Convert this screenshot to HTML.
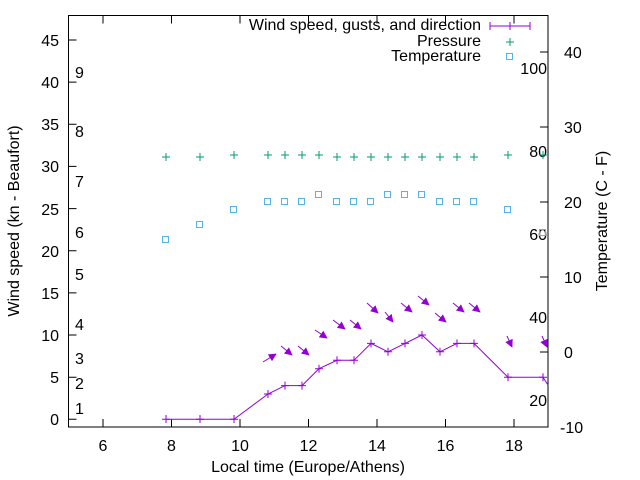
<!DOCTYPE html>
<html><head><meta charset="utf-8"><style>
body{margin:0;background:#fff}
svg{display:block}
text{font-family:"Liberation Sans",sans-serif;font-size:16px;fill:#000}
</style></head><body>
<svg width="640" height="480" viewBox="0 0 640 480" xmlns="http://www.w3.org/2000/svg">
<defs>
<marker id="ah" viewBox="0 0 10 10" refX="9" refY="5" markerWidth="8" markerHeight="8" markerUnits="userSpaceOnUse" orient="auto">
<path d="M0,0 L10,5 L0,10 z" fill="#9400d3"/>
</marker>
</defs>
<g stroke="#000" stroke-width="1" fill="none">
<rect x="68.5" y="15.5" width="479.5" height="411.5"/>
<path d="M68.5 419.3h8M68.5 377.2h8M68.5 335h8M68.5 292.9h8M68.5 250.7h8M68.5 208.6h8M68.5 166.4h8M68.5 124.3h8M68.5 82.1h8M68.5 40h8"/>
<path d="M548 52h-8M548 127h-8M548 202h-8M548 277h-8M548 352h-8M548 427h-8"/>
<path d="M103 427v-8M171.5 427v-8M240 427v-8M308.5 427v-8M377 427v-8M445.5 427v-8M514 427v-8"/>
<path d="M103 15.5v8M171.5 15.5v8M240 15.5v8M308.5 15.5v8M377 15.5v8M445.5 15.5v8M514 15.5v8"/>
</g>
<g text-anchor="end">
<text x="59" y="425">0</text><text x="59" y="383">5</text><text x="59" y="341">10</text><text x="59" y="299">15</text><text x="59" y="257">20</text><text x="59" y="215">25</text><text x="59" y="172">30</text><text x="59" y="130">35</text><text x="59" y="88">40</text><text x="59" y="46">45</text>
<text x="547" y="74">100</text><text x="547" y="157">80</text><text x="547" y="240">60</text><text x="547" y="323">40</text><text x="547" y="406">20</text>
</g>
<g>
<text x="564" y="58">40</text><text x="564" y="133">30</text><text x="564" y="208">20</text><text x="564" y="283">10</text><text x="564" y="358">0</text><text x="560" y="433">-10</text>
<text x="75" y="414">1</text><text x="75" y="389">2</text><text x="75" y="364">3</text><text x="75" y="330">4</text><text x="75" y="280">5</text><text x="75" y="238">6</text><text x="75" y="187">7</text><text x="75" y="137">8</text><text x="75" y="78">9</text>
</g>
<g text-anchor="middle">
<text x="103" y="451">6</text><text x="171.5" y="451">8</text><text x="240" y="451">10</text><text x="308.5" y="451">12</text><text x="377" y="451">14</text><text x="445.5" y="451">16</text><text x="514" y="451">18</text>
<text x="308" y="472">Local time (Europe/Athens)</text>
<text transform="translate(19,221) rotate(-90)">Wind speed (kn - Beaufort)</text>
<text transform="translate(607,221) rotate(-90)">Temperature (C - F)</text>
</g>
<g text-anchor="end">
<text x="481" y="30">Wind speed, gusts, and direction</text>
<text x="481" y="46">Pressure</text>
<text x="481" y="61">Temperature</text>
</g>
<g stroke="#9400d3" stroke-width="1" fill="none">
<path d="M490 26h40M490 22v8M530 22v8M510 22v8"/>
<polyline points="166,419.3 200,419.3 234,419.3 268,394 285,385.6 302,385.6 319,368.7 337,360.3 354,360.3 371,343.4 388,351.8 405,343.4 422,335 440,351.8 457,343.4 474,343.4 508,377.2 543,377.2 548,385"/>
<path d="M166 415v8M200 415v8M234 415v8M268 390v8M285 381.6v8M302 381.6v8M319 364.7v8M337 356.3v8M354 356.3v8M371 339.4v8M388 347.8v8M405 339.4v8M422 331v8M440 347.8v8M457 339.4v8M474 339.4v8M508 373.2v8M543 373.2v8"/>
<path d="M162 419.3h8M196 419.3h8M230 419.3h8M264 394h8M281 385.6h8M298 385.6h8M315 368.7h8M333 360.3h8M350 360.3h8M367 343.4h8M384 351.8h8M401 343.4h8M418 335h8M436 351.8h8M453 343.4h8M470 343.4h8M504 377.2h8M539 377.2h8"/>
<g marker-end="url(#ah)">
<line x1="263" y1="362" x2="276" y2="354"/>
<line x1="281" y1="346" x2="292" y2="355"/>
<line x1="298" y1="346" x2="309" y2="355"/>
<line x1="315" y1="330" x2="327" y2="338"/>
<line x1="333" y1="320" x2="345" y2="329"/>
<line x1="350" y1="320" x2="361" y2="329"/>
<line x1="367" y1="303" x2="378" y2="313"/>
<line x1="385" y1="312" x2="393" y2="322"/>
<line x1="401" y1="303" x2="412" y2="312"/>
<line x1="418" y1="296" x2="429" y2="305"/>
<line x1="435" y1="313" x2="446" y2="322"/>
<line x1="453" y1="303" x2="464" y2="312"/>
<line x1="469" y1="303" x2="480" y2="312"/>
<line x1="507" y1="336" x2="512" y2="347"/>
<line x1="542" y1="336" x2="547" y2="347"/>
</g>
</g>
<g stroke="#009e73" stroke-width="1">
<path d="M506 42h8M510 38v8"/>
<path d="M162 157h8M166 153v8M196 157h8M200 153v8M230 155h8M234 151v8M264 155h8M268 151v8M281 155h8M285 151v8M298 155h8M302 151v8M315 155h8M319 151v8M333 157h8M337 153v8M350 157h8M354 153v8M367 157h8M371 153v8M384 157h8M388 153v8M401 157h8M405 153v8M418 157h8M422 153v8M436 157h8M440 153v8M453 157h8M457 153v8M470 157h8M474 153v8M504 155h8M508 151v8M539 155h8M543 151v8"/>
</g>
<g stroke="#56b4e9" stroke-width="1" fill="none">
<rect x="506.5" y="53.5" width="6" height="6"/>
<rect x="162.5" y="236.5" width="6" height="6"/>
<rect x="196.5" y="221.5" width="6" height="6"/>
<rect x="230.5" y="206.5" width="6" height="6"/>
<rect x="264.5" y="198.5" width="6" height="6"/>
<rect x="281.5" y="198.5" width="6" height="6"/>
<rect x="298.5" y="198.5" width="6" height="6"/>
<rect x="315.5" y="191.5" width="6" height="6"/>
<rect x="333.5" y="198.5" width="6" height="6"/>
<rect x="350.5" y="198.5" width="6" height="6"/>
<rect x="367.5" y="198.5" width="6" height="6"/>
<rect x="384.5" y="191.5" width="6" height="6"/>
<rect x="401.5" y="191.5" width="6" height="6"/>
<rect x="418.5" y="191.5" width="6" height="6"/>
<rect x="436.5" y="198.5" width="6" height="6"/>
<rect x="453.5" y="198.5" width="6" height="6"/>
<rect x="470.5" y="198.5" width="6" height="6"/>
<rect x="504.5" y="206.5" width="6" height="6"/>
<rect x="539.5" y="229.5" width="6" height="6"/>
</g>
</svg>
</body></html>
